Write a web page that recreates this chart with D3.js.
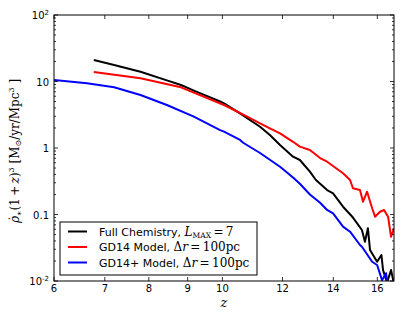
<!DOCTYPE html>
<html>
  <head>
    <meta charset='utf-8'>
    <script src='https://d3js.org/d3.v7.min.js'></script>
    <style>
body { margin: 0; background: #fff; }
.tick-label { font-family: 'DejaVu Sans', sans-serif; font-size: 10px; fill: #000; }
.legend-text { font-family: 'DejaVu Sans', sans-serif; font-size: 11px; fill: #000; }
.math { font-family: 'DejaVu Serif', 'Liberation Serif', serif; }
    </style>
  </head>
  <body>
    <div id='chart'></div>
    <script>
// redshift / value pairs
const fullZ   = [6.77, 7.20, 7.80, 8.45, 8.82, 9.17, 9.93, 10.05, 10.55, 11.21, 11.55, 11.91, 12.39, 12.65, 13.04, 13.28, 13.74, 13.99, 14.42, 14.86, 15.27, 15.41, 15.55, 15.65, 15.99, 16.20, 16.28, 16.48, 16.68, 16.83];
const fullVal = [21.0, 17.7, 14.0, 10.4, 8.86, 7.3, 5.0, 4.70, 3.32, 2.09, 1.57, 1.11, 0.74, 0.66, 0.44, 0.33, 0.233, 0.208, 0.131, 0.09, 0.0585, 0.039, 0.062, 0.0292, 0.0195, 0.0246, 0.0146, 0.0095, 0.0146, 0.009];

const gdZ   = [6.77, 7.80, 8.82, 10.05, 10.78, 11.21, 11.55, 11.91, 12.39, 12.65, 13.04, 13.45, 13.74, 14.42, 14.73, 14.86, 15.18, 15.32, 15.51, 15.75, 15.89, 16.13, 16.33, 16.53, 16.68, 16.83];
const gdVal = [13.9, 11.2, 8.18, 4.43, 2.96, 2.35, 1.98, 1.66, 1.24, 1.05, 0.933, 0.707, 0.622, 0.417, 0.33, 0.248, 0.233, 0.156, 0.22, 0.124, 0.0927, 0.110, 0.117, 0.0927, 0.0463, 0.062];

const gdpZ   = [6.0, 6.63, 7.20, 7.80, 8.45, 9.17, 9.93, 10.05, 10.55, 10.65, 11.21, 11.91, 12.39, 12.65, 13.04, 13.45, 13.74, 13.99, 14.42, 14.73, 15.18, 15.27, 15.75, 15.99, 16.23, 16.43, 16.53];
const gdpVal = [10.5, 9.4, 8.18, 6.26, 4.43, 2.96, 1.86, 1.76, 1.32, 1.20, 0.841, 0.523, 0.36, 0.29, 0.20, 0.15, 0.117, 0.104, 0.0656, 0.0551, 0.0348, 0.0328, 0.0195, 0.0174, 0.0103, 0.0131, 0.008];

const xTicks = [6, 7, 8, 9, 10, 12, 14, 16];
const yTicks = [0.01, 0.1, 1, 10, 100];
const yTickLabels = [['10', '-2'], ['0.1', ''], ['1', ''], ['10', ''], ['10', '2']];

const seriesNames = ['full', 'gd14', 'gd14p'];
const seriesColors = ['#000000', '#ff0000', '#0000ff'];

const width = 415, height = 313;
const margin = { left: 54, right: 21, top: 15, bottom: 32 };

var svg = d3.select('#chart').append('svg')
    .attr('width', width)
    .attr('height', height);

const x = d3.scaleLog().domain([6, 16.83]).range([margin.left, width - margin.right]);
const y = d3.scaleLog().domain([0.01, 100]).range([height - margin.bottom, margin.top]);

svg.append('clipPath').attr('id', 'frame-clip')
  .append('rect')
    .attr('x', margin.left).attr('y', margin.top)
    .attr('width', x.range()[1] - x.range()[0])
    .attr('height', y.range()[0] - y.range()[1]);

// data lines
var line = d3.line()
    .x(d => x(d[0]))
    .y(d => y(d[1]));

var series = [
  d3.zip(fullZ, fullVal),
  d3.zip(gdZ, gdVal),
  d3.zip(gdpZ, gdpVal)
];

var lines_g = svg.append('g').attr('clip-path', 'url(#frame-clip)');
series.forEach(function(s, i) {
  lines_g.append('path')
      .datum(s)
      .attr('class', 'line-' + seriesNames[i])
      .attr('d', line)
      .style('fill', 'none')
      .style('stroke', seriesColors[i])
      .style('stroke-width', 2)
      .style('stroke-linejoin', 'round');
});

// ticks (inward, all four sides)
var ticks_g = svg.append('g').style('stroke', '#000').style('stroke-width', 0.8);
const x0 = x.range()[0], x1 = x.range()[1];
const y0 = y.range()[0], y1 = y.range()[1];

xTicks.forEach(function(t) {
  ticks_g.append('line').attr('x1', x(t)).attr('x2', x(t)).attr('y1', y0).attr('y2', y0 - 4);
  ticks_g.append('line').attr('x1', x(t)).attr('x2', x(t)).attr('y1', y1).attr('y2', y1 + 4);
});

yTicks.forEach(function(t) {
  ticks_g.append('line').attr('x1', x0).attr('x2', x0 + 4).attr('y1', y(t)).attr('y2', y(t));
  ticks_g.append('line').attr('x1', x1).attr('x2', x1 - 4).attr('y1', y(t)).attr('y2', y(t));
});

var minor = [];
yTicks.slice(0, -1).forEach(function(t) {
  for (var k = 2; k < 10; k++) minor.push(t * k);
});
minor.forEach(function(t) {
  ticks_g.append('line').attr('x1', x0).attr('x2', x0 + 2).attr('y1', y(t)).attr('y2', y(t));
  ticks_g.append('line').attr('x1', x1).attr('x2', x1 - 2).attr('y1', y(t)).attr('y2', y(t));
});

// frame
svg.append('rect')
    .attr('x', x0).attr('y', y1)
    .attr('width', x1 - x0).attr('height', y0 - y1)
    .style('fill', 'none')
    .style('stroke', '#000')
    .style('stroke-width', 1);

// tick labels
xTicks.forEach(function(t) {
  svg.append('text')
      .attr('class', 'tick-label')
      .attr('x', x(t)).attr('y', y0 + 11)
      .attr('text-anchor', 'middle')
      .text(t);
});

yTicks.forEach(function(t, i) {
  var lab = yTickLabels[i];
  var txt = svg.append('text')
      .attr('class', 'tick-label')
      .attr('x', x0 - 5).attr('y', y(t) + 4)
      .attr('text-anchor', 'end');
  txt.append('tspan').text(lab[0]);
  if (lab[1]) {
    txt.append('tspan').attr('dy', -4).style('font-size', '7px').text(lab[1]);
  }
});

// axis labels
svg.append('text')
    .attr('class', 'math')
    .attr('x', (x0 + x1) / 2).attr('y', 307)
    .attr('text-anchor', 'middle')
    .style('font-size', '13px')
    .style('font-style', 'italic')
    .text('z');

var yl = svg.append('text')
    .attr('class', 'math')
    .attr('transform', 'translate(19,151) rotate(-90)')
    .attr('text-anchor', 'middle')
    .style('font-size', '12px');
yl.append('tspan').style('font-style', 'italic').text('\u03C1\u0307');
yl.append('tspan').attr('dy', 3).style('font-size', '8px').text('\u2217');
yl.append('tspan').attr('dy', -3).text('(1\u2009+\u2009');
yl.append('tspan').style('font-style', 'italic').text('z');
yl.append('tspan').text(')');
yl.append('tspan').attr('dy', -5).style('font-size', '8px').text('3');
yl.append('tspan').attr('dy', 5).text(' [M');
yl.append('tspan').attr('dy', 2).style('font-size', '8px').text('\u2299');
yl.append('tspan').attr('dy', -2).text('/yr/Mpc');
yl.append('tspan').attr('dy', -5).style('font-size', '8px').text('3');
yl.append('tspan').attr('dy', 5).text(' ]');

// legend
var legend_g = svg.append('g');
legend_g.append('rect')
    .attr('x', 60).attr('y', 222)
    .attr('width', 197).attr('height', 53)
    .style('fill', '#fff')
    .style('stroke', '#000')
    .style('stroke-width', 1);

const legendRows = [231.5, 247, 262.5];
seriesNames.forEach(function(n, i) {
  legend_g.append('line')
      .attr('x1', 68).attr('x2', 87)
      .attr('y1', legendRows[i]).attr('y2', legendRows[i])
      .style('stroke', seriesColors[i])
      .style('stroke-width', 2);
});

var l0 = legend_g.append('text').attr('class', 'legend-text').attr('x', 99).attr('y', legendRows[0] + 4);
l0.append('tspan').text('Full Chemistry, ');
l0.append('tspan').attr('class', 'math').style('font-style', 'italic').style('font-size', '12px').text('L');
l0.append('tspan').attr('class', 'math').attr('dy', 2).style('font-size', '7.5px').text('MAX');
l0.append('tspan').attr('class', 'math').attr('dy', -2).style('font-size', '12px').text('\u2009=\u20097');

[['GD14 Model, ', 1], ['GD14+ Model, ', 2]].forEach(function(r) {
  var t = legend_g.append('text').attr('class', 'legend-text').attr('x', 99).attr('y', legendRows[r[1]] + 4);
  t.append('tspan').text(r[0]);
  t.append('tspan').attr('class', 'math').style('font-size', '12px').text('\u0394');
  t.append('tspan').attr('class', 'math').style('font-style', 'italic').style('font-size', '12px').text('r');
  t.append('tspan').attr('class', 'math').style('font-size', '12px').text('\u2009=\u2009100pc');
});
    </script>
  </body>
</html>
